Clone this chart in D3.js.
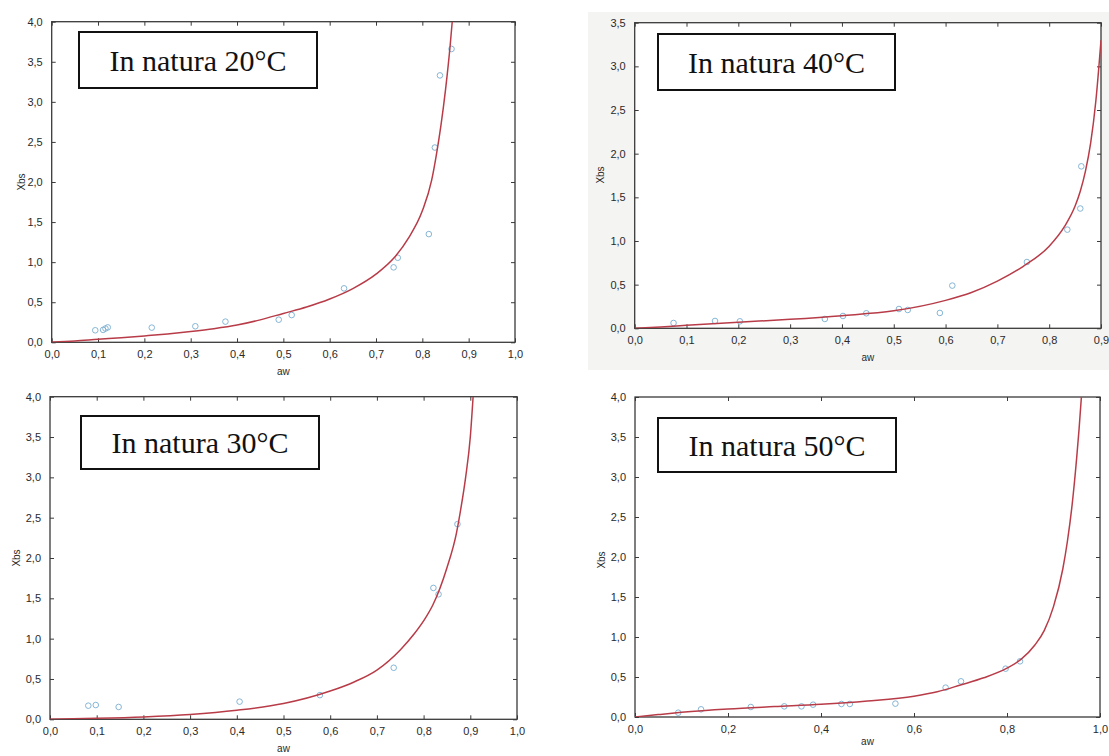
<!DOCTYPE html>
<html>
<head>
<meta charset="utf-8">
<script src="https://cdn.jsdelivr.net/npm/d3@7"></script>
<style>
  html, body { margin: 0; padding: 0; background: #fff; }
  svg { display: block; }
  .tick text { font-family: "Liberation Sans", Arial, sans-serif; font-size: 11px; fill: #2a2a2a; }
</style>
</head>
<body>
<svg id="chart" width="1109" height="756"></svg>
<script>
// titles and axis extents
const titles = ["In natura 20°C", "In natura 40°C", "In natura 30°C", "In natura 50°C"];
const xMaxes = [1.0, 0.9, 1.0, 1.0];
const yMaxes = [4.0, 3.5, 4.0, 4.0];
const xSteps = [0.1, 0.1, 0.1, 0.2];

// experimental points (aw, Xbs)
const obs20Aw = [0.094, 0.111, 0.116, 0.121, 0.216, 0.31, 0.375, 0.49, 0.518, 0.631, 0.738, 0.747, 0.814, 0.827, 0.838, 0.863];
const obs20X  = [0.15, 0.155, 0.172, 0.186, 0.183, 0.2, 0.258, 0.282, 0.34, 0.673, 0.935, 1.055, 1.35, 2.43, 3.33, 3.66];
const obs40Aw = [0.075, 0.155, 0.203, 0.367, 0.402, 0.447, 0.51, 0.527, 0.589, 0.613, 0.757, 0.835, 0.86, 0.862];
const obs40X  = [0.061, 0.084, 0.08, 0.107, 0.141, 0.172, 0.221, 0.21, 0.176, 0.489, 0.759, 1.13, 1.372, 1.855];
const obs30Aw = [0.082, 0.098, 0.147, 0.406, 0.578, 0.736, 0.821, 0.832, 0.8725];
const obs30X  = [0.169, 0.177, 0.153, 0.219, 0.3, 0.639, 1.629, 1.55, 2.42];
const obs50Aw = [0.093, 0.142, 0.249, 0.321, 0.358, 0.383, 0.444, 0.462, 0.56, 0.668, 0.701, 0.797, 0.828];
const obs50X  = [0.054, 0.096, 0.125, 0.133, 0.133, 0.154, 0.163, 0.163, 0.167, 0.367, 0.446, 0.604, 0.696];

// fitted isotherm
const fit20Aw = [0, 0.05, 0.1, 0.15, 0.2, 0.25, 0.3, 0.35, 0.4, 0.45, 0.5, 0.55, 0.6, 0.65, 0.7, 0.74, 0.77, 0.8, 0.82, 0.83, 0.84, 0.85, 0.86, 0.8645];
const fit20X  = [0, 0.015, 0.037, 0.057, 0.08, 0.105, 0.135, 0.17, 0.215, 0.28, 0.36, 0.44, 0.54, 0.67, 0.85, 1.06, 1.3, 1.64, 2.02, 2.33, 2.7, 3.15, 3.7, 4.0];
const fit40Aw = [0, 0.05, 0.1, 0.2, 0.3, 0.4, 0.5, 0.6, 0.65, 0.7, 0.75, 0.8, 0.83, 0.85, 0.86, 0.87, 0.88, 0.89, 0.9];
const fit40X  = [0, 0.016, 0.034, 0.069, 0.103, 0.145, 0.2, 0.32, 0.41, 0.54, 0.71, 0.94, 1.17, 1.4, 1.57, 1.8, 2.12, 2.6, 3.3];
const fit30Aw = [0, 0.1, 0.2, 0.3, 0.4, 0.5, 0.6, 0.65, 0.7, 0.75, 0.78, 0.8, 0.82, 0.85, 0.87, 0.88, 0.89, 0.9, 0.906];
const fit30X  = [0, 0.012, 0.03, 0.06, 0.112, 0.195, 0.35, 0.46, 0.61, 0.86, 1.06, 1.22, 1.42, 1.88, 2.3, 2.62, 3.0, 3.5, 4.0];
const fit50Aw = [0, 0.05, 0.1, 0.2, 0.3, 0.4, 0.5, 0.6, 0.65, 0.7, 0.75, 0.8, 0.83, 0.86, 0.88, 0.9, 0.92, 0.93, 0.94, 0.95, 0.955, 0.96];
const fit50X  = [0, 0.03, 0.058, 0.1, 0.13, 0.158, 0.2, 0.26, 0.315, 0.4, 0.49, 0.61, 0.72, 0.9, 1.08, 1.38, 1.85, 2.2, 2.65, 3.25, 3.6, 4.0];

const obsAw = [obs20Aw, obs40Aw, obs30Aw, obs50Aw];
const obsX = [obs20X, obs40X, obs30X, obs50X];
const fitAw = [fit20Aw, fit40Aw, fit30Aw, fit50Aw];
const fitX = [fit20X, fit40X, fit30X, fit50X];

// where each panel sits on the page
const layout = [
    {frame: [51.7, 21.7, 515, 342.3], box: [79, 32, 317, 88], ylab: [21, 182], awY: 375},
    {frame: [634.7, 22.7, 1101, 328.3], box: [658, 34, 895, 90], ylab: [600, 175], awY: 361, bg: [588, 12, 521, 358]},
    {frame: [50, 396.7, 517, 719.3], box: [81, 416, 319, 469], ylab: [16, 558], awY: 752},
    {frame: [635, 397, 1100, 717], box: [658, 418, 896, 472], ylab: [601, 560], awY: 745}
];

const colors = {
    frame: '#3a3a3a',
    fit: '#b83c48',
    point: '#78aed0'
};

const fmt = v => d3.format('.1f')(v).replace('.', ',');
const svg = d3.select('#chart');

layout.forEach((L, i) => {
    const [x0, y0, x1, y1] = L.frame;
    const g = svg.append('g');

    if (L.bg) {
        g.append('rect')
            .attr('x', L.bg[0]).attr('y', L.bg[1])
            .attr('width', L.bg[2]).attr('height', L.bg[3])
            .attr('fill', '#f4f4f2');
        g.append('rect')
            .attr('x', x0).attr('y', y0)
            .attr('width', x1 - x0).attr('height', y1 - y0)
            .attr('fill', '#fff');
    }

    const x = d3.scaleLinear().domain([0, xMaxes[i]]).range([x0, x1]);
    const y = d3.scaleLinear().domain([0, yMaxes[i]]).range([y1, y0]);
    const xt = d3.range(0, xMaxes[i] + 1e-9, xSteps[i]);
    const yt = d3.range(0, yMaxes[i] + 1e-9, 0.5);

    const styleAxis = sel => {
        sel.select('.domain').remove();
        sel.selectAll('line').attr('stroke', colors.frame).attr('stroke-width', 1);
    };

    g.append('g').attr('transform', `translate(0,${y1})`)
        .call(d3.axisBottom(x).tickValues(xt).tickSize(-4).tickPadding(8).tickFormat(fmt))
        .call(styleAxis);
    g.append('g').attr('transform', `translate(0,${y0})`)
        .call(d3.axisTop(x).tickValues(xt).tickSize(-4).tickFormat(''))
        .call(styleAxis);
    g.append('g').attr('transform', `translate(${x0},0)`)
        .call(d3.axisLeft(y).tickValues(yt).tickSize(-4).tickPadding(9).tickFormat(fmt))
        .call(styleAxis);
    g.append('g').attr('transform', `translate(${x1},0)`)
        .call(d3.axisRight(y).tickValues(yt).tickSize(-4).tickFormat(''))
        .call(styleAxis);

    g.append('rect')
        .attr('x', x0).attr('y', y0)
        .attr('width', x1 - x0).attr('height', y1 - y0)
        .attr('fill', 'none')
        .attr('stroke', colors.frame)
        .attr('stroke-width', 1.3);

    // axis titles
    g.append('text')
        .attr('x', (x0 + x1) / 2).attr('y', L.awY)
        .attr('text-anchor', 'middle')
        .style('font-family', '"Liberation Sans", Arial, sans-serif')
        .style('font-size', '10px')
        .style('fill', '#2a2a2a')
        .text('aw');
    g.append('text')
        .attr('transform', `translate(${L.ylab[0]},${L.ylab[1]}) rotate(-90)`)
        .attr('text-anchor', 'middle')
        .attr('dy', '0.35em')
        .style('font-family', '"Liberation Sans", Arial, sans-serif')
        .style('font-size', '10px')
        .style('fill', '#2a2a2a')
        .text('Xbs');

    const clipId = 'clip' + i;
    svg.append('defs').append('clipPath').attr('id', clipId)
        .append('rect')
        .attr('x', x0).attr('y', y0)
        .attr('width', x1 - x0).attr('height', y1 - y0);

    const fit = fitAw[i].map((a, k) => [a, fitX[i][k]]);
    const line = d3.line()
        .x(d => x(d[0]))
        .y(d => y(d[1]))
        .curve(d3.curveMonotoneX);

    const pts = obsAw[i].map((a, k) => [a, obsX[i][k]]);
    g.append('g')
        .selectAll('circle')
        .data(pts)
        .enter().append('circle')
        .attr('cx', d => x(d[0]))
        .attr('cy', d => y(d[1]))
        .attr('r', 2.8)
        .attr('fill', 'none')
        .attr('stroke', colors.point)
        .attr('stroke-width', 0.9);

    g.append('path')
        .datum(fit)
        .attr('clip-path', `url(#${clipId})`)
        .attr('fill', 'none')
        .attr('stroke', colors.fit)
        .attr('stroke-width', 1.5)
        .attr('d', line);

    // title box
    const [bx0, by0, bx1, by1] = L.box;
    g.append('rect')
        .attr('x', bx0).attr('y', by0)
        .attr('width', bx1 - bx0).attr('height', by1 - by0)
        .attr('fill', '#fff')
        .attr('stroke', '#111')
        .attr('stroke-width', 2);
    g.append('text')
        .attr('x', (bx0 + bx1) / 2)
        .attr('y', (by0 + by1) / 2 + 10.5)
        .attr('text-anchor', 'middle')
        .style('font-family', '"Liberation Serif", "Times New Roman", serif')
        .style('font-size', '30px')
        .style('fill', '#111')
        .text(titles[i]);
});
</script>
</body>
</html>
